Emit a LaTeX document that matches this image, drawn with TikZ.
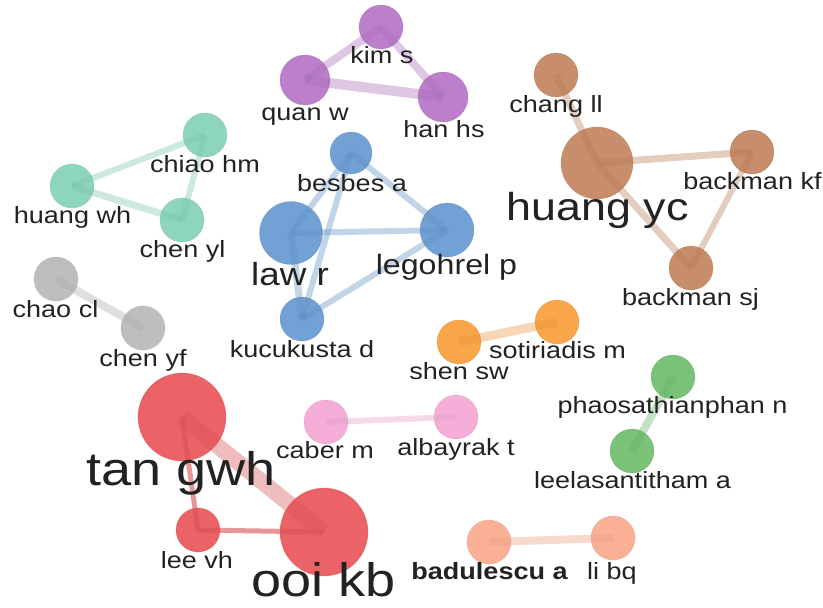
\documentclass[tikz,border=0pt]{standalone}
\usepackage{fontspec}
\setmainfont{Liberation Sans}[FakeStretch=1.15]
\definecolor{cpurple}{RGB}{182,118,200}
\definecolor{cteal}{RGB}{134,211,182}
\definecolor{cblue}{RGB}{104,156,210}
\definecolor{cbrown}{RGB}{196,134,96}
\definecolor{cgray}{RGB}{186,186,186}
\definecolor{cred}{RGB}{234,88,92}
\definecolor{cpink}{RGB}{245,168,212}
\definecolor{corange}{RGB}{249,160,62}
\definecolor{cgreen}{RGB}{112,190,110}
\definecolor{csalmon}{RGB}{249,170,140}
\definecolor{labelgray}{RGB}{34,34,34}
\tikzset{
  blob/.style={circle,inner sep=0pt,fill=#1,fill opacity=0.93,
    draw=#1!80!black,draw opacity=0.3,line width=0.6pt},
  link/.style={draw=#1!93!black,draw opacity=0.38,line width=7pt},
  lbl/.style={text=labelgray,inner sep=0pt,anchor=base,
    font=\fontsize{23.5}{24}\selectfont},
}
\begin{document}
\begin{tikzpicture}[x=1pt,y=-1pt]
\useasboundingbox (0,0) rectangle (823,608);
\fill[white] (0,0) rectangle (823,608);

% ---- author circles ----
% purple cluster
\node[blob=cpurple,minimum size=44] (kims) at (381,27) {};
\node[blob=cpurple,minimum size=50] (quanw) at (305,80) {};
\node[blob=cpurple,minimum size=50] (hanhs) at (443,97) {};
% teal cluster
\node[blob=cteal,minimum size=44] (chiaohm) at (205,135) {};
\node[blob=cteal,minimum size=44] (huangwh) at (72,186) {};
\node[blob=cteal,minimum size=44] (chenyl) at (182,220) {};
% blue cluster
\node[blob=cblue,minimum size=42] (besbesa) at (351,153) {};
\node[blob=cblue,minimum size=63] (lawr) at (291,233) {};
\node[blob=cblue,minimum size=54] (legohrelp) at (447,230) {};
\node[blob=cblue,minimum size=44] (kucukustad) at (302,319) {};
% brown cluster
\node[blob=cbrown,minimum size=44] (changll) at (556,75) {};
\node[blob=cbrown,minimum size=72] (huangyc) at (597,163) {};
\node[blob=cbrown,minimum size=44] (backmankf) at (752,152) {};
\node[blob=cbrown,minimum size=44] (backmansj) at (691,268) {};
% gray pair
\node[blob=cgray,minimum size=44] (chaocl) at (56,279) {};
\node[blob=cgray,minimum size=44] (chenyf) at (143,328) {};
% red cluster
\node[blob=cred,minimum size=88] (tangwh) at (182,417) {};
\node[blob=cred,minimum size=44] (leevh) at (198,530) {};
\node[blob=cred,minimum size=88] (ooikb) at (324,532) {};
% pink pair
\node[blob=cpink,minimum size=44] (caberm) at (326,422) {};
\node[blob=cpink,minimum size=44] (albayrakt) at (456,417) {};
% orange pair
\node[blob=corange,minimum size=44] (shensw) at (459,342) {};
\node[blob=corange,minimum size=44] (sotiriadism) at (557,322) {};
% green pair
\node[blob=cgreen,minimum size=44] (phaosathianphann) at (673,377) {};
\node[blob=cgreen,minimum size=44] (leelasantithama) at (632,451) {};
% salmon pair
\node[blob=csalmon,minimum size=44] (badulescua) at (489,542) {};
\node[blob=csalmon,minimum size=44] (libq) at (613,538) {};

% ---- co-authorship links ----
\draw[link=cpurple,line width=8pt] (kims.center) -- (quanw.center);
\draw[link=cpurple,line width=8pt] (kims.center) -- (hanhs.center);
\draw[link=cpurple,line width=10pt] (quanw.center) -- (hanhs.center);

\draw[link=cteal,line width=6pt] (huangwh.center) -- (chiaohm.center);
\draw[link=cteal,line width=7pt] (huangwh.center) -- (chenyl.center);
\draw[link=cteal,line width=6pt] (chiaohm.center) -- (chenyl.center);

\draw[link=cblue,line width=6pt] (besbesa.center) -- (lawr.center);
\draw[link=cblue,line width=6pt] (besbesa.center) -- (legohrelp.center);
\draw[link=cblue,line width=6pt] (besbesa.center) -- (kucukustad.center);
\draw[link=cblue,line width=6pt] (lawr.center) -- (legohrelp.center);
\draw[link=cblue,line width=7pt] (lawr.center) -- (kucukustad.center);
\draw[link=cblue,line width=6pt] (legohrelp.center) -- (kucukustad.center);

\draw[link=cbrown,line width=7pt] (changll.center) -- (huangyc.center);
\draw[link=cbrown,line width=7pt] (huangyc.center) -- (backmankf.center);
\draw[link=cbrown,line width=7pt] (huangyc.center) -- (backmansj.center);
\draw[link=cbrown,line width=6pt] (backmankf.center) -- (backmansj.center);

\draw[link=cgray,line width=8pt] (chaocl.center) -- (chenyf.center);

\draw[link=cred,line width=16pt] (tangwh.center) -- (ooikb.center);
\draw[link=cred,draw opacity=0.6,line width=5pt] (tangwh.center) -- (leevh.center);
\draw[link=cred,draw opacity=0.6,line width=5pt] (leevh.center) -- (ooikb.center);

\draw[link=cpink,line width=6pt] (caberm.center) -- (albayrakt.center);
\draw[link=corange,line width=9pt] (shensw.center) -- (sotiriadism.center);
\draw[link=cgreen,line width=8pt] (phaosathianphann.center) -- (leelasantithama.center);
\draw[link=csalmon,line width=8pt] (badulescua.center) -- (libq.center);

% ---- author names ----
\node[lbl] (tkims) at (382,63) {kim s};
\node[lbl] (tquanw) at (305,120) {quan w};
\node[lbl] (thanhs) at (444,137) {han hs};
\node[lbl] (tchiaohm) at (205,172) {chiao hm};
\node[lbl] (thuangwh) at (72.5,223) {huang wh};
\node[lbl] (tchenyl) at (182.5,257) {chen yl};
\node[lbl] (tbesbesa) at (352,191) {besbes a};
\node[lbl,font=\fontsize{32}{32}\selectfont] (tlawr) at (290,285) {law r};
\node[lbl,font=\fontsize{28}{28}\selectfont] (tlegohrelp) at (446.5,274) {legohrel p};
\node[lbl] (tkucukustad) at (302,357) {kucukusta d};
\node[lbl] (tchangll) at (556,112) {chang ll};
\node[lbl,font=\fontsize{39}{39}\selectfont] (thuangyc) at (597.5,220) {huang yc};
\node[lbl] (tbackmankf) at (752.5,189) {backman kf};
\node[lbl] (tbackmansj) at (690.5,305) {backman sj};
\node[lbl] (tchaocl) at (55.5,317) {chao cl};
\node[lbl] (tchenyf) at (143,366) {chen yf};
\node[lbl,font=\fontsize{47}{47}\selectfont] (ttangwh) at (181,485) {tan gwh};
\node[lbl] (tleevh) at (197,568) {lee vh};
\node[lbl,font=\fontsize{47}{47}\selectfont] (tooikb) at (323.5,596) {ooi kb};
\node[lbl] (tcaberm) at (325,458) {caber m};
\node[lbl] (talbayrakt) at (456,455) {albayrak t};
\node[lbl] (tshensw) at (459,379) {shen sw};
\node[lbl] (tsotiriadism) at (557.5,358) {sotiriadis m};
\node[lbl] (tphaosathianphann) at (672.5,413) {phaosathianphan n};
\node[lbl] (tleelasantithama) at (632.5,488) {leelasantitham a};
\node[lbl,font=\fontsize{23.5}{24}\selectfont\bfseries] (tbadulescua) at (489.5,579) {badulescu a};
\node[lbl] (tlibq) at (612,579) {li bq};
\end{tikzpicture}
\end{document}
